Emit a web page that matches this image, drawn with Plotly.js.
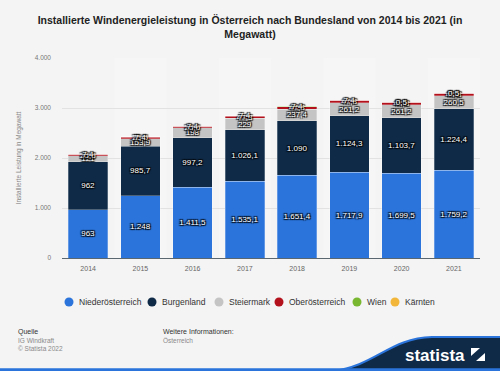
<!DOCTYPE html>
<html>
<head>
<meta charset="utf-8">
<script src="https://cdn.plot.ly/plotly-3.0.1.min.js"></script>
<style>
html,body{margin:0;padding:0;background:#f4f4f4;}
#chart{width:500px;height:371px;}
</style>
</head>
<body>
<div id="chart"></div>
<script>
const years = ['2014','2015','2016','2017','2018','2019','2020','2021'];
const niederoesterreich = [963, 1248, 1411.5, 1535.1, 1651.4, 1717.9, 1699.5, 1759.2];
const burgenland = [962, 985.7, 997.2, 1026.1, 1090, 1124.3, 1103.7, 1224.4];
const steiermark = [121, 153.9, 198, 229, 237.4, 261.2, 261.2, 260.5];
const oberoesterreich = [25.5, 25.5, 25.5, 47.3, 47.3, 47.3, 47.3, 47.3];
const wien = [7.4, 7.4, 7.4, 7.4, 7.4, 7.4, 7.4, 7.4];
const kaernten = [0, 0, 0, 0, 0, 0, 0.5, 0.5];

const seriesNames = ['Niederösterreich','Burgenland','Steiermark','Oberösterreich','Wien','Kärnten'];
const seriesData = [niederoesterreich, burgenland, steiermark, oberoesterreich, wien, kaernten];
const colors = ['#2a74db','#0f2a47','#c4c4c4','#b3121d','#78b72f','#f2b63b'];

const fnt = 'Liberation Sans, Arial, sans-serif';

const traces = seriesData.map((vals, i) => ({
  type: 'bar', x: years, y: vals, name: seriesNames[i],
  marker: {color: colors[i], line: {color: 'rgba(255,255,255,0.45)', width: 0.6}},
  texttemplate: '%{y:,.1~f}', textposition: 'inside', insidetextanchor: 'middle',
  constraintext: 'none', cliponaxis: false,
  textfont: {family: fnt, size: 8, color: '#ffffff',
    shadow: '1px 1px 1px #000, -1px -1px 1px #000, 1px -1px 1px #000, -1px 1px 1px #000'},
  showlegend: false, hoverinfo: 'x+y+name'
}));

// pixel -> paper helpers (plot area: x 62..480, y 58..258)
const L = 62, R = 480, T = 58, B = 258;
const px = X => (X - L) / (R - L);
const py = Y => (B - Y) / (B - T);

const shapes = [];
// alternating light column bands
years.forEach((y, i) => {
  if (i % 2 === 1) {
    shapes.push({type: 'rect', xref: 'x', yref: 'paper', x0: i - 0.5, x1: i + 0.5, y0: 0, y1: 1,
      fillcolor: 'rgba(255,255,255,0.22)', line: {width: 0}, layer: 'below'});
  }
});

const annotations = [];
// custom legend (circle markers + labels), layout positions
const legendX = [69, 152, 219, 279, 357, 395];
const legendY = 302;
seriesNames.forEach((n, i) => {
  shapes.push({type: 'circle', xref: 'paper', yref: 'paper',
    x0: px(legendX[i] - 4.5), x1: px(legendX[i] + 4.5), y0: py(legendY + 4.5), y1: py(legendY - 4.5),
    fillcolor: colors[i], line: {width: 0}});
  annotations.push({text: n, x: px(legendX[i] + 8), y: py(legendY), xref: 'paper', yref: 'paper',
    xanchor: 'left', yanchor: 'middle', showarrow: false, font: {family: fnt, size: 8.5, color: '#333'}});
});

// statista footer wave
shapes.push({type: 'path', xref: 'paper', yref: 'paper',
  path: `M ${px(333)},${py(371)} C ${px(375)},${py(366)} ${px(390)},${py(338)} ${px(432)},${py(337)} L ${px(502)},${py(337)} L ${px(502)},${py(372)} Z`,
  fillcolor: '#0f2a47', line: {color: '#2a74db', width: 2}});
shapes.push({type: 'line', xref: 'paper', yref: 'paper', x0: px(-2), x1: px(502), y0: py(369.7), y1: py(369.7),
  line: {color: '#2a74db', width: 3}});
// statista icon
shapes.push({type: 'rect', xref: 'paper', yref: 'paper', x0: px(471), x1: px(485), y0: py(361), y1: py(348),
  fillcolor: '#ffffff', line: {width: 0}});
shapes.push({type: 'path', xref: 'paper', yref: 'paper',
  path: `M ${px(471)},${py(356)} L ${px(480)},${py(348)} L ${px(485)},${py(348)} L ${px(485)},${py(353)} L ${px(476)},${py(361)} L ${px(471)},${py(361)} Z`,
  fillcolor: '#0f2a47', line: {width: 0}});

annotations.push(
  {text: 'Quelle', x: px(16), y: py(331.5), xref: 'paper', yref: 'paper', xanchor: 'left', yanchor: 'middle', showarrow: false, font: {family: fnt, size: 7, color: '#333'}},
  {text: 'IG Windkraft', x: px(16), y: py(340), xref: 'paper', yref: 'paper', xanchor: 'left', yanchor: 'middle', showarrow: false, font: {family: fnt, size: 6.5, color: '#8a8a8a'}},
  {text: '© Statista 2022', x: px(16), y: py(348), xref: 'paper', yref: 'paper', xanchor: 'left', yanchor: 'middle', showarrow: false, font: {family: fnt, size: 6.5, color: '#8a8a8a'}},
  {text: 'Weitere Informationen:', x: px(161), y: py(331.5), xref: 'paper', yref: 'paper', xanchor: 'left', yanchor: 'middle', showarrow: false, font: {family: fnt, size: 7, color: '#333'}},
  {text: 'Österreich', x: px(161), y: py(340), xref: 'paper', yref: 'paper', xanchor: 'left', yanchor: 'middle', showarrow: false, font: {family: fnt, size: 6.5, color: '#8a8a8a'}},
  {text: '<b>statista</b>', x: px(467), y: py(355), xref: 'paper', yref: 'paper', xanchor: 'right', yanchor: 'middle', showarrow: false, font: {family: fnt, size: 17, color: '#ffffff'}}
);

const layout = {
  width: 500, height: 371,
  paper_bgcolor: '#f4f4f4', plot_bgcolor: '#f4f4f4',
  margin: {l: L, r: 500 - R, t: T, b: 371 - B, pad: 0},
  barmode: 'stack', bargap: 0.24,
  separators: ',.',
  font: {family: fnt},
  showlegend: false,
  title: {text: '<b>Installierte Windenergieleistung in Österreich nach Bundesland von 2014 bis 2021 (in<br>Megawatt)</b>',
    x: 0.5, xanchor: 'center', y: 1 - 24/371, yanchor: 'middle', yref: 'container',
    font: {family: fnt, size: 10.5, color: '#222'}},
  xaxis: {type: 'category', showgrid: false, showline: true, linecolor: '#5a6670', linewidth: 1,
    ticks: '', tickfont: {family: fnt, size: 7, color: '#666'}, ticklabelstandoff: 4, fixedrange: true},
  yaxis: {range: [0, 4000], tickvals: [0, 1000, 2000, 3000, 4000], ticktext: ['0','1.000','2.000','3.000','4.000'],
    showgrid: true, gridcolor: '#e2e2e2', gridwidth: 1, zeroline: false, showline: false,
    tickfont: {family: fnt, size: 6.5, color: '#777'}, ticklabelstandoff: 10,
    title: {text: 'Installierte Leistung in Megawatt', font: {family: fnt, size: 6.5, color: '#888'}, standoff: 12},
    fixedrange: true},
  shapes: shapes,
  annotations: annotations
};

Plotly.newPlot('chart', traces, layout, {displayModeBar: false, staticPlot: true});
</script>
</body>
</html>
